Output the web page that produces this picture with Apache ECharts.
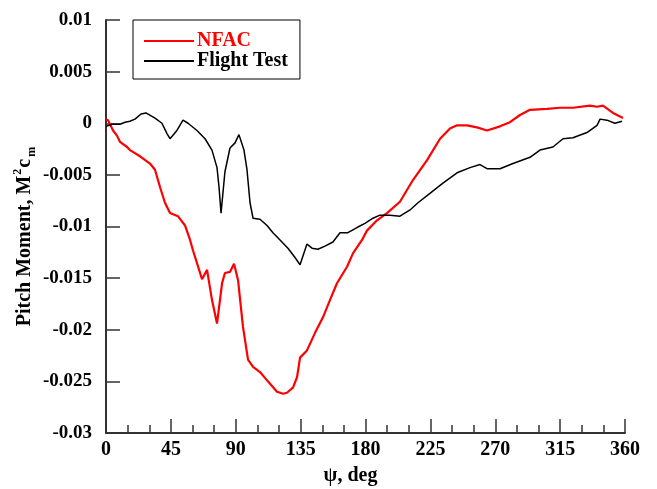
<!DOCTYPE html>
<html>
<head>
<meta charset="utf-8">
<title>Pitch Moment</title>
<script src="https://cdn.jsdelivr.net/npm/echarts@6/dist/echarts.min.js"></script>
<style>
  html, body { margin: 0; padding: 0; background: #fff; }
  #chart { width: 657px; height: 489px; }
</style>
</head>
<body>
<div id="chart"></div>
<script>
// psi (deg) / pitch moment
var nfacPsi = [0, 1.4, 4.9, 7.6, 9.7, 14.6, 16.6, 23.6, 30.5, 34.0, 37.5, 40.9, 44.4, 49.9, 54.8,
  58.3, 60.3, 66.6, 70.1, 73.5, 77.0, 80.5, 82.5, 86.0, 88.8, 91.6, 95.0, 98.5, 102.0, 106.8,
  111.7, 118.6, 122.8, 125.5, 129.7, 132.5, 134.6, 139.4, 145.0, 150.5, 155.4, 160.2, 167.2,
  171.3, 177.6, 181.0, 188.0, 194.9, 203.9, 212.9, 222.6, 231.7, 238.6, 243.5, 250.4, 257.3,
  264.3, 273.3, 280.2, 287.2, 294.1, 305.9, 314.9, 323.9, 335.7, 340.6, 344.7, 351.7, 358.6];
var nfacCm = [0.0004, 0.0003, -0.0007, -0.0012, -0.0018, -0.0023, -0.0026, -0.0032, -0.0039, -0.0045,
  -0.0062, -0.0077, -0.0087, -0.0090, -0.0099, -0.0113, -0.0123, -0.0151, -0.0142, -0.0171,
  -0.0194, -0.0155, -0.0145, -0.0144, -0.0136, -0.0152, -0.0197, -0.0229, -0.0236, -0.0241,
  -0.0249, -0.0260, -0.0262, -0.0261, -0.0256, -0.0246, -0.0227, -0.0220, -0.0203, -0.0188,
  -0.0171, -0.0155, -0.0139, -0.0126, -0.0113, -0.0104, -0.0094, -0.0087, -0.0076, -0.0055,
  -0.0036, -0.0015, -0.0005, -0.0002, -0.0002, -0.0004, -0.0007, -0.0003, 0.0001, 0.0008,
  0.0013, 0.0014, 0.0015, 0.0015, 0.0017, 0.0016, 0.0017, 0.0010, 0.0005];

var flightPsi = [0, 4.2, 9.7, 13.2, 16.6, 20.1, 24.3, 27.7, 34.0, 38.8, 42.3, 44.4, 49.2, 53.4, 56.9,
  63.1, 68.7, 73.5, 77.0, 78.4, 79.8, 82.5, 86.0, 89.5, 92.2, 95.7, 97.8, 99.9, 102.0, 106.8,
  111.7, 115.8, 120.7, 126.2, 131.1, 134.6, 139.4, 142.9, 147.0, 151.9, 157.4, 162.3, 167.8,
  174.1, 179.6, 185.2, 190.0, 197.0, 203.9, 210.9, 216.4, 224.7, 233.7, 243.5, 252.5, 259.4,
  264.3, 273.3, 282.3, 294.1, 301.0, 310.0, 317.0, 323.9, 333.6, 340.6, 342.7, 347.5, 353.0, 357.9];
var flightCm = [-0.0003, -0.0001, -0.0001, 0.0001, 0.0002, 0.0004, 0.0009, 0.0010, 0.0005, 0.0000,
  -0.0010, -0.0015, -0.0007, 0.0003, 0.0000, -0.0007, -0.0015, -0.0026, -0.0043, -0.0062,
  -0.0087, -0.0047, -0.0024, -0.0019, -0.0011, -0.0026, -0.0045, -0.0077, -0.0092, -0.0093,
  -0.0099, -0.0106, -0.0113, -0.0121, -0.0130, -0.0137, -0.0117, -0.0121, -0.0122, -0.0119,
  -0.0115, -0.0106, -0.0106, -0.0101, -0.0097, -0.0092, -0.0089, -0.0089, -0.0090, -0.0084,
  -0.0077, -0.0068, -0.0058, -0.0048, -0.0043, -0.0040, -0.0044, -0.0044, -0.0039, -0.0033,
  -0.0026, -0.0023, -0.0015, -0.0014, -0.0009, -0.0002, 0.0004, 0.0003, 0.0000, 0.0002];

function pairs(xs, ys) {
  return xs.map(function (x, i) { return [x, ys[i]]; });
}

var font = "'Liberation Serif', 'Times New Roman', serif";

var chart = echarts.init(document.getElementById('chart'));
chart.setOption({
  backgroundColor: '#fff',
  animation: false,
  grid: { left: 106, top: 20, width: 519, height: 413, outerBoundsMode: 'none' },
  legend: {
    orient: 'vertical',
    left: 133,
    top: 20,
    borderColor: '#000',
    borderWidth: 1,
    padding: [11, 12, 8, 10],
    itemWidth: 50,
    itemHeight: 14,
    itemGap: 0,
    itemStyle: { opacity: 0 },
    textStyle: { fontFamily: font, fontWeight: 'bold', fontSize: 20, padding: [0, 0, 0, -2] },
    data: [
      { name: 'NFAC', textStyle: { color: '#ff0000' } },
      { name: 'Flight Test', textStyle: { color: '#000' } }
    ]
  },
  xAxis: {
    type: 'value',
    min: 0,
    max: 360,
    interval: 45,
    name: 'ψ, deg',
    nameLocation: 'middle',
    nameGap: 33,
    nameMoveOverlap: false,
    nameTextStyle: { fontFamily: font, fontWeight: 'bold', fontSize: 20, color: '#000', padding: [0, 30, 0, 0] },
    axisLine: { onZero: false, lineStyle: { color: '#333', width: 2 } },
    axisTick: { inside: true, length: 14, lineStyle: { color: '#333', width: 1.5 } },
    minorTick: { show: true, splitNumber: 3, length: 8, lineStyle: { color: '#333', width: 1.5 } },
    axisLabel: { fontFamily: font, fontWeight: 'bold', fontSize: 20, color: '#000', margin: 7 },
    splitLine: { show: false }
  },
  yAxis: {
    type: 'value',
    min: -0.03,
    max: 0.01,
    interval: 0.005,
    name: '{a|Pitch Moment, M}{sup|2}{a|c}{sub|m}',
    nameLocation: 'middle',
    nameGap: 68,
    nameMoveOverlap: false,
    nameTextStyle: {
      color: '#000',
      padding: [0, 0, 0, -20],
      rich: {
        a: { fontFamily: font, fontWeight: 'bold', fontSize: 20, lineHeight: 26, verticalAlign: 'middle' },
        sup: { fontFamily: font, fontWeight: 'bold', fontSize: 12, lineHeight: 26, verticalAlign: 'top', padding: [0, 1, 0, 1] },
        sub: { fontFamily: font, fontWeight: 'bold', fontSize: 12, lineHeight: 26, verticalAlign: 'bottom', padding: [0, 0, 0, 2] }
      }
    },
    axisLine: { show: true, onZero: false, lineStyle: { color: '#333', width: 2 } },
    axisTick: { show: true, inside: true, length: 14, lineStyle: { color: '#333', width: 1.5 } },
    axisLabel: {
      fontFamily: font, fontWeight: 'bold', fontSize: 19, color: '#000', margin: 14,
      formatter: function (v) { return String(+v.toFixed(3)); }
    },
    splitLine: { show: false }
  },
  series: [
    {
      name: 'NFAC',
      type: 'line',
      symbol: 'none',
      lineStyle: { color: '#ff0000', width: 2.2 },
      itemStyle: { color: '#ff0000' },
      data: pairs(nfacPsi, nfacCm)
    },
    {
      name: 'Flight Test',
      type: 'line',
      symbol: 'none',
      lineStyle: { color: '#000', width: 1.5 },
      itemStyle: { color: '#000' },
      data: pairs(flightPsi, flightCm)
    }
  ]
});
</script>
</body>
</html>
